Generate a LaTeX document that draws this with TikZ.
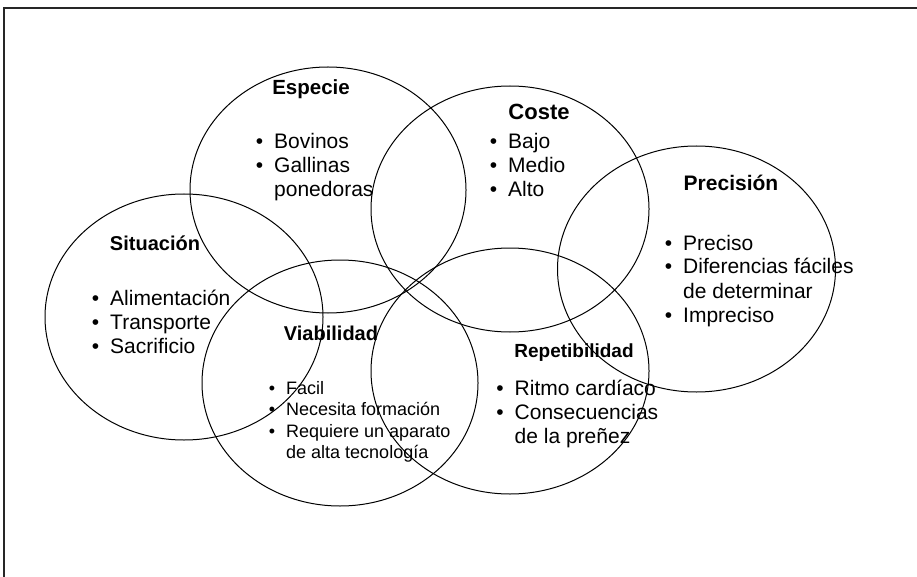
\documentclass[tikz,border=0pt]{standalone}
\usepackage{fontspec}
\setmainfont{Liberation Sans}
\usetikzlibrary{shapes.geometric}
\newcommand\mybul{\llap{\textbullet\hspace{11pt}}}
\begin{document}
\begin{tikzpicture}[x=1pt,y=-1pt,
  ring/.style={draw, ellipse, line width=1pt, inner sep=0pt, outer sep=0pt},
  head/.style={font=\bfseries\fontsize{#1}{#1}\selectfont, anchor=base, inner sep=0pt},
  itemlist/.style={anchor=base west, inner sep=0pt, font=\fontsize{#1}{24}\selectfont},
  smalllist/.style={anchor=base west, inner sep=0pt, font=\fontsize{18}{21.3}\selectfont},
  frame/.style={line width=1.5pt, draw=black!85}]
\useasboundingbox (0,0) rectangle (917,577);
% frame (right and bottom edges lie outside the picture)
\draw[frame] (917,8) -- (4,8) -- (4,577);
% ellipses
\node[ring, minimum width=276, minimum height=246] (especie) at (328,190) {};
\node[ring, minimum width=278, minimum height=246] (coste) at (510,209) {};
\node[ring, minimum width=278, minimum height=246] (precision) at (696.5,269) {};
\node[ring, minimum width=278, minimum height=246] (situacion) at (184,317) {};
\node[ring, minimum width=276, minimum height=246] (viabilidad) at (340,383) {};
\node[ring, minimum width=278, minimum height=246] (repetibilidad) at (510,371) {};
% headings
\node[head=20.5] (hEspecie) at (311,94.2) {Especie};
\node[head=22] (hCoste) at (539,120) {Coste};
\node[head=21] (hPrecision) at (731,190.5) {Precisión};
\node[head=20] (hSituacion) at (155,250.2) {Situación};
\node[head=20] (hViabilidad) at (331,340.2) {Viabilidad};
\node[head=19] (hRepetibilidad) at (574,357.8) {Repetibilidad};
% lists
\node[itemlist=21] (lEspecie) at (274,149) {\begin{tabular}[t]{@{}l@{}}\mybul Bovinos\\ \mybul Gallinas\\ ponedoras\end{tabular}};
\node[itemlist=21] (lCoste) at (508,149) {\begin{tabular}[t]{@{}l@{}}\mybul Bajo\\ \mybul Medio\\ \mybul Alto\end{tabular}};
\node[itemlist=21] (lPrecision) at (683,250) {\begin{tabular}[t]{@{}l@{}}\mybul Preciso\\ \mybul Diferencias fáciles\\ de determinar\\ \mybul Impreciso\end{tabular}};
\node[itemlist=21] (lSituacion) at (110,305) {\begin{tabular}[t]{@{}l@{}}\mybul Alimentación\\ \mybul Transporte\\ \mybul Sacrificio\end{tabular}};
\node[smalllist] (lViabilidad) at (286,394.4) {\begin{tabular}[t]{@{}l@{}}\mybul Facil\\ \mybul Necesita formación\\ \mybul Requiere un aparato\\ de alta tecnología\end{tabular}};
\node[itemlist=21] (lRepetibilidad) at (514.5,395) {\begin{tabular}[t]{@{}l@{}}\mybul Ritmo cardíaco\\ \mybul Consecuencias\\ de la preñez\end{tabular}};
\end{tikzpicture}
\end{document}
